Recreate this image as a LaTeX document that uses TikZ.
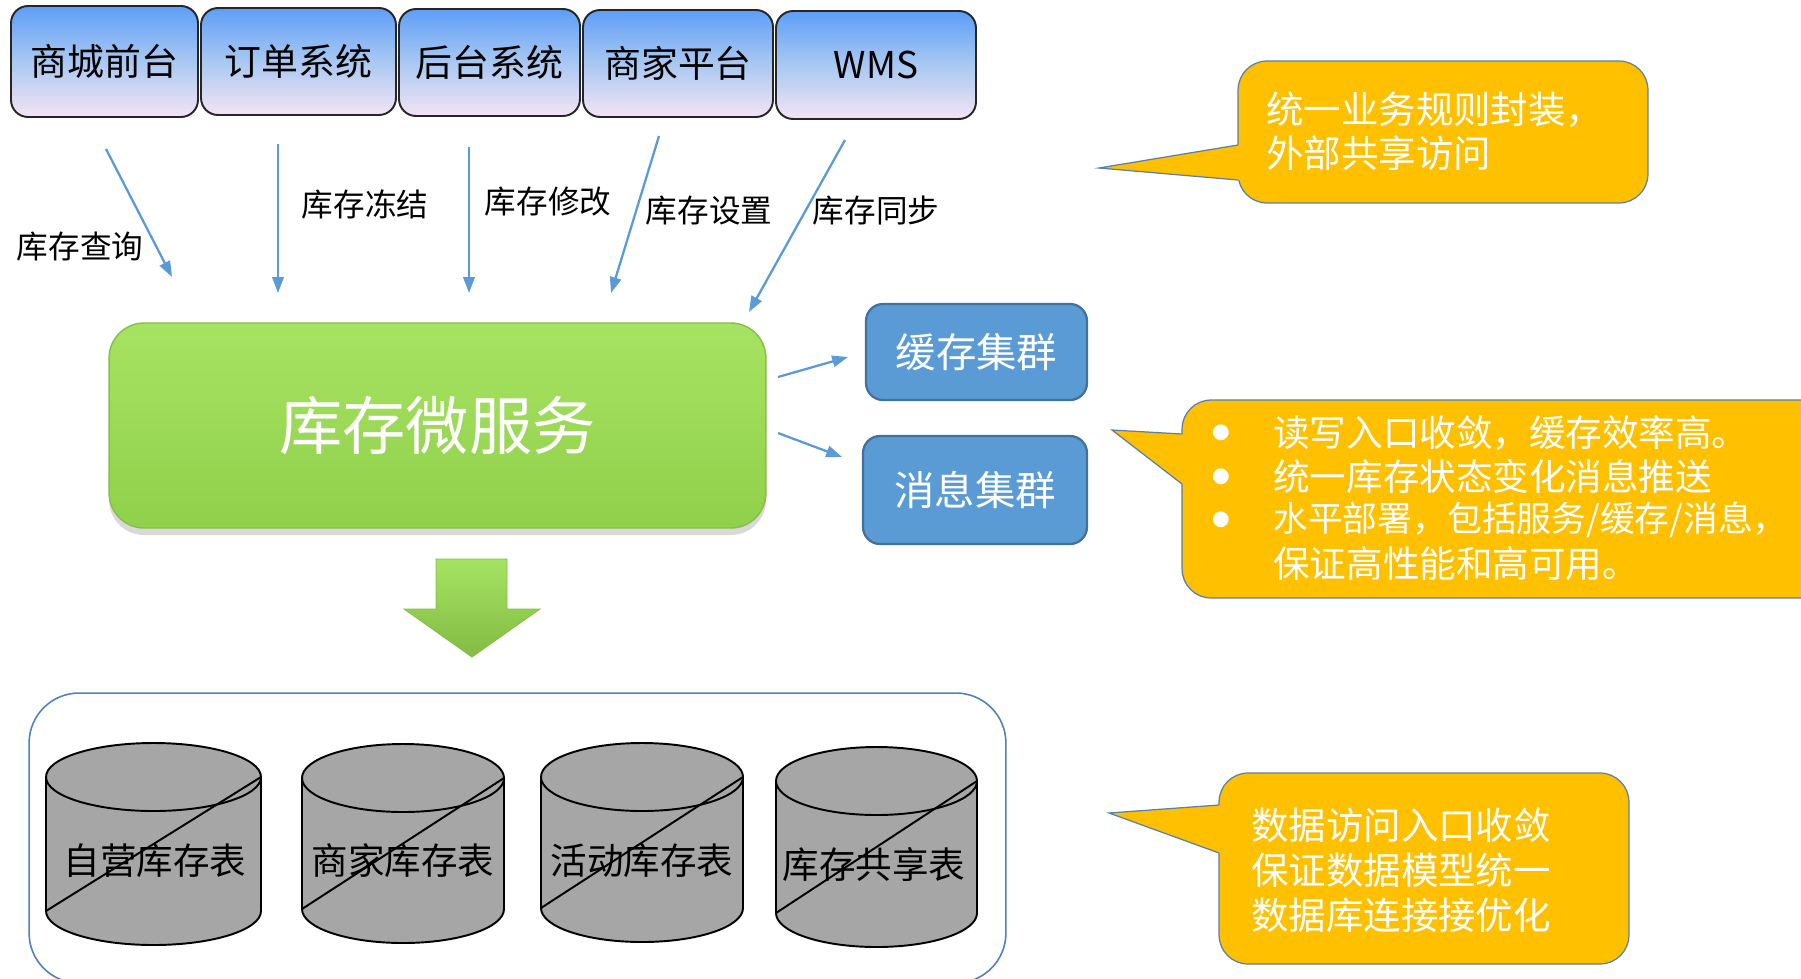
\documentclass[tikz,border=0pt]{standalone}
\usepackage{fontspec}
\setmainfont{Noto Sans CJK SC}
\usetikzlibrary{arrows.meta,shadows,calc}
\definecolor{topblue}{HTML}{5E9EF7}
\definecolor{topmid}{HTML}{A9C8F2}
\definecolor{toppink}{HTML}{F4E4F4}
\definecolor{arrowblue}{HTML}{5B9BD5}
\definecolor{boxblue}{HTML}{5B9BD5}
\definecolor{boxborder}{HTML}{41719C}
\definecolor{greentop}{HTML}{A6E362}
\definecolor{greenbot}{HTML}{90D04A}
\definecolor{greenline}{HTML}{86BF48}
\definecolor{callyellow}{HTML}{FFC000}
\definecolor{callline}{HTML}{5A7FA8}
\definecolor{contblue}{HTML}{4F81BD}
\definecolor{cylgray}{HTML}{A6A6A6}
\begin{document}
\begin{tikzpicture}[x=0.02cm,y=-0.02cm,
  topbox/.style={draw=black!85, line width=1.1pt, rounded corners=0.34cm,
    top color=topblue, bottom color=toppink, middle color=topmid,
    inner sep=0, font=\fontsize{21}{24}\selectfont, text=black},
  arr/.style={draw=arrowblue, line width=1.3pt, -{Triangle[length=9pt,width=6.5pt]}},
  lbl/.style={inner sep=0, font=\fontsize{18}{21}\selectfont, text=black},
  greenbox/.style={draw=greenline, line width=0.8pt, rounded corners=0.7cm,
    top color=greentop, bottom color=greenbot, inner sep=0,
    drop shadow={opacity=0.3, shadow xshift=0pt, shadow yshift=-4pt},
    font=\fontsize{36}{40}\selectfont, text=white},
  bluebox/.style={fill=boxblue, draw=boxborder, line width=1.3pt, rounded corners=0.34cm,
    inner sep=0, font=\fontsize{23}{26}\selectfont, text=white},
  callbox/.style={fill=callyellow, draw=callline, line width=0.7pt, rounded corners=0.58cm, inner sep=0},
  callfill/.style={fill=callyellow},
  callborder/.style={draw=callline, line width=0.7pt, line join=miter},
  ctext/.style={inner sep=0, anchor=west, font=\fontsize{21.3}{25}\selectfont, text=white},
  ctexttwo/.style={ctext, font=\fontsize{20.8}{25}\selectfont},
  bullet/.style={inner sep=0, anchor=west, font=\fontsize{10}{12}\selectfont, text=white},
  cylfill/.style={fill=cylgray, draw=black, line width=1.1pt},
  cylline/.style={draw=black, line width=1.1pt},
  cyltext/.style={inner sep=0, font=\fontsize{20.8}{24}\selectfont, text=black}
]
\useasboundingbox (0,0) rectangle (1801,978);
\clip (0,0) rectangle (1801,978);

% top systems
\node[topbox, minimum width=3.74cm, minimum height=2.22cm] (b1) at (104.5,61.5) {商城前台};
\node[topbox, minimum width=3.90cm, minimum height=2.14cm] (b2) at (298.5,61.5) {订单系统};
\node[topbox, minimum width=3.62cm, minimum height=2.14cm] (b3) at (489.5,62.5) {后台系统};
\node[topbox, minimum width=3.80cm, minimum height=2.14cm] (b4) at (678,63.5) {商家平台};
\node[topbox, minimum width=4.00cm, minimum height=2.16cm] (b5) at (876,65) {WMS};

% arrows from systems
\coordinate (s1) at (106,149); \coordinate (e1) at (172,277);
\coordinate (s2) at (278,144); \coordinate (e2) at (278,293);
\coordinate (s3) at (469,147); \coordinate (e3) at (469,293);
\coordinate (s4) at (659,136); \coordinate (e4) at (611,293);
\coordinate (s5) at (845,140); \coordinate (e5) at (749,312);
\draw[arr] (s1) -- (e1);
\draw[arr] (s2) -- (e2);
\draw[arr] (s3) -- (e3);
\draw[arr] (s4) -- (e4);
\draw[arr] (s5) -- (e5);
\node[lbl] (l1) at (80,247) {库存查询};
\node[lbl] (l2) at (365,204) {库存冻结};
\node[lbl] (l3) at (548,202) {库存修改};
\node[lbl] (l4) at (709,211) {库存设置};
\node[lbl] (l5) at (876,211) {库存同步};

% micro service
\node[greenbox, minimum width=13.14cm, minimum height=4.1cm] (svc) at (437.5,425.5) {库存微服务};

% clusters
\node[bluebox, minimum width=4.42cm, minimum height=1.92cm] (cache) at (976.5,352) {缓存集群};
\node[bluebox, minimum width=4.48cm, minimum height=2.16cm] (mq) at (975,490) {消息集群};
\coordinate (g1) at (778,377); \coordinate (h1) at (848,357);
\coordinate (g2) at (778,433); \coordinate (h2) at (842,457);
\draw[arr] (g1) -- (h1);
\draw[arr] (g2) -- (h2);

% block arrow down
\shade[top color=greentop, bottom color=greenbot!90!black, draw=greenline, line width=0.5pt]
  (436,559) -- (507,559) -- (507,609) -- (540,609) -- (472,657) -- (404,609) -- (436,609) -- cycle;

% storage container
\node[draw=contblue, line width=0.9pt, rounded corners=1cm, minimum width=19.54cm,
  minimum height=5.8cm, inner sep=0] (store) at (517.5,838) {};

% cylinders
\foreach \cx/\rx/\yt/\yb/\tx/\ty/\lab/\nm in {
  153.5/107.5/777/911/155/861/自营库存表/t1,
  403/101/778/909/403/861/商家库存表/t2,
  642/101/777/908/642/861/活动库存表/t3,
  876.5/100.5/781/913/874/865/库存共享表/t4}
{
  \filldraw[cylfill] ({\cx-\rx},\yt) -- ({\cx-\rx},\yb)
    .. controls ({\cx-\rx},{\yb+0.5523*34}) and ({\cx-0.5523*\rx},{\yb+34}) .. (\cx,{\yb+34})
    .. controls ({\cx+0.5523*\rx},{\yb+34}) and ({\cx+\rx},{\yb+0.5523*34}) .. ({\cx+\rx},\yb)
    -- ({\cx+\rx},\yt);
  \filldraw[cylfill] (\cx,\yt) ellipse [x radius=\rx, y radius=34];
  \draw[cylline] ({\cx-\rx},\yb) -- ({\cx+\rx},\yt);
  \node[cyltext] (\nm) at (\tx,\ty) {\lab};
}

% callout 1
\node[callbox, minimum width=8.2cm, minimum height=2.84cm] (c1) at (1443,132) {};
\coordinate (c1tip) at (1099,168); \coordinate (c1a) at (1238,145); \coordinate (c1b) at (1238,180);
\fill[callfill] (c1tip) -- (c1a) -- ($(c1a)+(5,0)$) -- ($(c1b)+(5,0)$) -- (c1b) -- cycle;
\draw[callborder] (c1a) -- (c1tip) -- (c1b);
\node[ctext] (c1t1) at (1266,110) {统一业务规则封装，};
\node[ctext] (c1t2) at (1266,153) {外部共享访问};

% callout 2
\node[callbox, minimum width=12.96cm, minimum height=3.96cm] (c2) at (1506,499) {};
\coordinate (c2tip) at (1112,430); \coordinate (c2a) at (1182,434); \coordinate (c2b) at (1182,484);
\fill[callfill] (c2tip) -- (c2a) -- ($(c2a)+(5,0)$) -- ($(c2b)+(5,0)$) -- (c2b) -- cycle;
\draw[callborder] (c2a) -- (c2tip) -- (c2b);
\node[bullet] (c2d1) at (1212,433) {●};
\node[bullet] (c2d2) at (1212,477) {●};
\node[bullet] (c2d3) at (1212,520) {●};
\node[ctexttwo] (c2t1) at (1273,433) {读写入口收敛，缓存效率高。};
\node[ctexttwo] (c2t2) at (1273,477) {统一库存状态变化消息推送};
\node[ctexttwo, font=\fontsize{19.8}{25}\selectfont] (c2t3) at (1273,520) {水平部署，包括服务/缓存/消息，};
\node[ctexttwo] (c2t4) at (1273,564) {保证高性能和高可用。};

% callout 3
\node[callbox, minimum width=8.2cm, minimum height=3.82cm] (c3) at (1424,868.5) {};
\coordinate (c3tip) at (1109,813); \coordinate (c3a) at (1219,805); \coordinate (c3b) at (1219,853);
\fill[callfill] (c3tip) -- (c3a) -- ($(c3a)+(5,0)$) -- ($(c3b)+(5,0)$) -- (c3b) -- cycle;
\draw[callborder] (c3a) -- (c3tip) -- (c3b);
\node[ctext] (c3t1) at (1251,825) {数据访问入口收敛};
\node[ctext] (c3t2) at (1251,870) {保证数据模型统一};
\node[ctext] (c3t3) at (1251,915) {数据库连接接优化};
\end{tikzpicture}
\end{document}
